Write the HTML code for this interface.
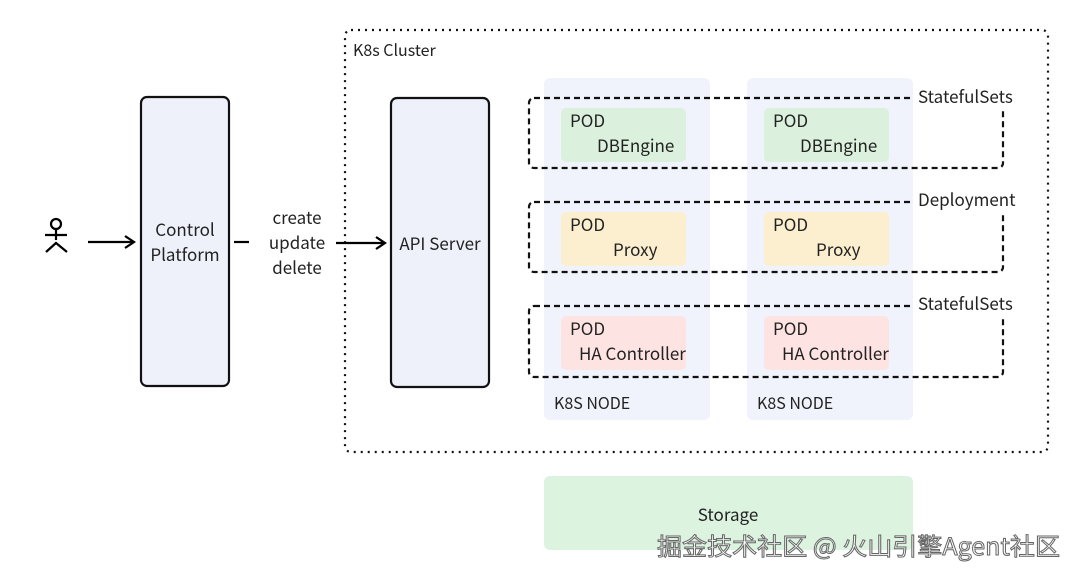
<!DOCTYPE html>
<html><head><meta charset="utf-8"><style>
body{margin:0;background:#fff}
svg text{font-family:"Noto Sans CJK SC","Liberation Sans",sans-serif;fill:#222}
</style></head><body>
<svg width="1080" height="581" viewBox="0 0 1080 581" xmlns="http://www.w3.org/2000/svg">
<defs><marker id="a" markerWidth="12" markerHeight="14" refX="10" refY="7" orient="auto" markerUnits="userSpaceOnUse"><path d="M1,1 L10,7 L1,13" fill="none" stroke="#000" stroke-width="2.2"/></marker></defs>
<rect x="345" y="30" width="703" height="422" rx="6" fill="none" stroke="#111" stroke-width="2.2" stroke-dasharray="2 5"/>
<text x="353" y="56" font-size="16">K8s Cluster</text>
<rect x="141" y="97" width="88" height="289" rx="6" fill="#eef1fa" stroke="#111" stroke-width="2.2"/>
<text x="185" y="236" font-size="17" text-anchor="middle">Control</text>
<text x="185" y="261" font-size="17" text-anchor="middle">Platform</text>
<rect x="391" y="98" width="98" height="289" rx="6" fill="#eef1fa" stroke="#111" stroke-width="2.2"/>
<text x="440" y="250" font-size="17" text-anchor="middle">API Server</text>
<g stroke="#000" stroke-width="2.2" fill="none"><circle cx="56" cy="224" r="5"/><line x1="56" y1="229" x2="56" y2="240"/><line x1="45" y1="235" x2="67" y2="235"/><path d="M46,252 L56,243 L67,252"/></g>
<line x1="88" y1="242" x2="134" y2="242" stroke="#000" stroke-width="2.2" marker-end="url(#a)"/>
<line x1="234" y1="242" x2="249" y2="242" stroke="#000" stroke-width="2.2"/>
<line x1="336" y1="243" x2="385" y2="243" stroke="#000" stroke-width="2.2" marker-end="url(#a)"/>
<text x="297" y="224" font-size="17" text-anchor="middle">create</text>
<text x="297" y="249" font-size="17" text-anchor="middle">update</text>
<text x="297" y="274" font-size="17" text-anchor="middle">delete</text>
<rect x="544" y="78" width="166" height="342" rx="6" fill="#f0f3fb"/>
<rect x="747" y="78" width="166" height="342" rx="6" fill="#f0f3fb"/>
<text x="554" y="409" font-size="16">K8S NODE</text>
<text x="757" y="409" font-size="16">K8S NODE</text>
<g font-size="17">
<rect x="561" y="108" width="125" height="54" rx="5" fill="#dcf1dd"/><rect x="764" y="108" width="125" height="54" rx="5" fill="#dcf1dd"/>
<text x="570" y="127">POD</text><text x="597" y="152">DBEngine</text><text x="773" y="127">POD</text><text x="800" y="152">DBEngine</text>
<rect x="561" y="212" width="125" height="54" rx="5" fill="#fcefcf"/><rect x="764" y="212" width="125" height="54" rx="5" fill="#fcefcf"/>
<text x="570" y="231">POD</text><text x="613" y="256">Proxy</text><text x="773" y="231">POD</text><text x="816" y="256">Proxy</text>
<rect x="561" y="316" width="125" height="54" rx="5" fill="#fde4e3"/><rect x="764" y="316" width="125" height="54" rx="5" fill="#fde4e3"/>
<text x="570" y="335">POD</text><text x="579" y="360">HA Controller</text><text x="773" y="335">POD</text><text x="782" y="360">HA Controller</text>
</g>
<g fill="none" stroke="#111" stroke-width="2.2" stroke-dasharray="6 4">
<rect x="529" y="98" width="474" height="70" rx="5"/>
<rect x="529" y="202" width="474" height="70" rx="5"/>
<rect x="529" y="306" width="474" height="71" rx="5"/>
</g>
<g font-size="17"><rect x="914" y="86" width="106" height="22" fill="#fff"/><text x="918" y="103">StatefulSets</text>
<rect x="914" y="190" width="106" height="22" fill="#fff"/><text x="918" y="206">Deployment</text>
<rect x="914" y="294" width="106" height="22" fill="#fff"/><text x="918" y="310">StatefulSets</text></g>
<rect x="544" y="476" width="369" height="74" rx="6" fill="#dcf3e0"/>
<text x="728" y="521" font-size="17" text-anchor="middle">Storage</text>
<text x="657" y="555" font-size="24" textLength="403" lengthAdjust="spacingAndGlyphs" style="fill:#fff;stroke:#666;stroke-width:1">掘金技术社区 @ 火山引擎Agent社区</text>
</svg>
</body></html>
